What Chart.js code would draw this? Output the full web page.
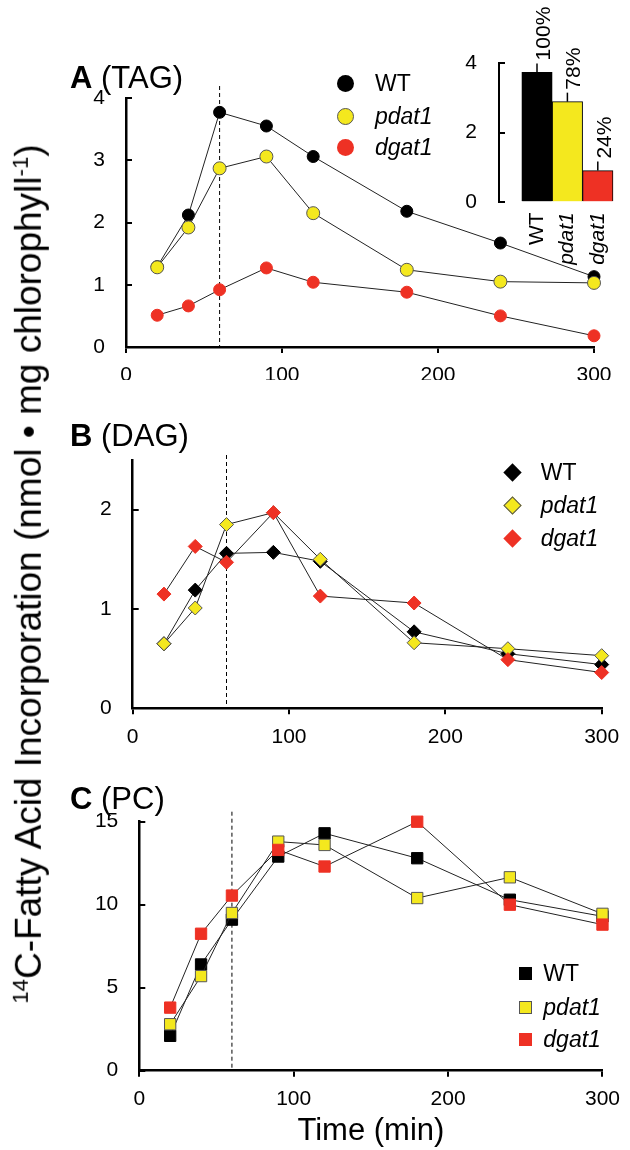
<!DOCTYPE html>
<html>
<head>
<meta charset="utf-8">
<title>14C-fatty acid incorporation</title>
<script src="https://cdn.jsdelivr.net/npm/chart.js"></script>
<style>
  body { margin: 0; width: 630px; height: 1150px; position: relative; background: #fff; overflow: hidden;
         font-family: "Liberation Sans", Arial, sans-serif; color: #000; }
  canvas { position: absolute; }
  .ptitle { position: absolute; left: 70px; font-size: 31px; line-height: 31px; white-space: nowrap; }
  .leg { position: absolute; font-size: 23px; line-height: 23px; white-space: nowrap; }
  .leg i { font-style: italic; }
  .mk { position: absolute; box-sizing: border-box; }
  #ylab { position: absolute; left: 29px; top: 574px; font-size: 37px; white-space: nowrap;
          transform: translate(-50%, -50%) rotate(-90deg); }
  #ylab sup { font-size: 0.6em; }
</style>
</head>
<body>
<canvas id="tag" width="630" height="380" style="left:0;top:0"></canvas>
<canvas id="inset" width="190" height="275" style="left:440px;top:0"></canvas>
<canvas id="dag" width="630" height="370" style="left:0;top:380px"></canvas>
<canvas id="pc" width="630" height="400" style="left:0;top:750px"></canvas>

<div class="ptitle" style="top:62px"><b>A</b> (TAG)</div>
<div class="ptitle" style="top:420px"><b>B</b> (DAG)</div>
<div class="ptitle" style="top:783px"><b>C</b> (PC)</div>
<div id="ylab"><sup>14</sup>C-Fatty Acid Incorporation (nmol • mg chlorophyll<sup>-1</sup>)</div>

<script>
// time points (min)
const times = [20, 40, 60, 90, 120, 180, 240, 300];
const markTime = 60;
const strains = ['WT', 'pdat1', 'dgat1'];

// A: TAG
const tagWT    = [1.29, 2.12, 3.77, 3.55, 3.06, 2.18, 1.67, 1.13];
const tagPdat1 = [1.28, 1.92, 2.87, 3.06, 2.15, 1.24, 1.05, 1.03];
const tagDgat1 = [0.51, 0.66, 0.92, 1.27, 1.04, 0.88, 0.50, 0.18];

// A inset: TAG at 60 min
const insetValues  = [3.73, 2.89, 0.91];
const insetPercent = ['100%', '78%', '24%'];

// B: DAG
const dagWT    = [0.65, 1.19, 1.56, 1.57, 1.48, 0.77, 0.55, 0.44];
const dagPdat1 = [0.65, 1.01, 1.85, 1.97, 1.50, 0.66, 0.60, 0.53];
const dagDgat1 = [1.15, 1.63, 1.47, 1.97, 1.13, 1.06, 0.49, 0.36];

// C: PC
const pcWT    = [2.1, 6.4, 9.1, 12.9, 14.3, 12.8, 10.3, 9.3];
const pcPdat1 = [2.8, 5.7, 9.5, 13.8, 13.6, 10.4, 11.65, 9.45];
const pcDgat1 = [3.8, 8.25, 10.55, 13.3, 12.3, 15.0, 10.0, 8.8];

const xTicks = [0, 100, 200, 300];

const FONT = "'Liberation Sans', Arial, sans-serif";
Chart.defaults.font.family = FONT;
Chart.defaults.color = '#000';

const BLACK = '#000000', YELLOW = '#f4e81e', RED = '#ee3124';
const fills = [BLACK, YELLOW, RED];

// dashed line at the 60 min mark
const markLine = {
  id: 'markLine',
  beforeDatasetsDraw(chart, args, opts) {
    const { ctx, chartArea, scales } = chart;
    const px = scales.x.getPixelForValue(opts.value);
    ctx.save();
    ctx.strokeStyle = '#000';
    ctx.lineWidth = 1;
    ctx.setLineDash([4, 3]);
    ctx.beginPath();
    ctx.moveTo(px, chartArea.top - opts.above);
    ctx.lineTo(px, chartArea.bottom);
    ctx.stroke();
    ctx.restore();
  }
};

function series(data, i, style, radius) {
  return {
    label: strains[i],
    data: data.map((v, k) => ({ x: times[k], y: v })),
    borderColor: '#222',
    borderWidth: 1,
    pointStyle: style,
    pointRadius: radius,
    pointHoverRadius: radius,
    pointBackgroundColor: fills[i],
    pointBorderColor: i === 1 ? '#555' : fills[i],
    pointBorderWidth: 1,
    clip: false,
    order: 3 - i
  };
}

function linePanel(id, sets, yMax, yTicks, box, extraX) {
  const x = {
    type: 'linear', min: 0, max: 300,
    afterBuildTicks: s => { s.ticks = xTicks.map(v => ({ value: v })); },
    afterFit: s => { s.height = box.xh; },
    border: { color: '#000', width: 2.5 },
    grid: { drawOnChartArea: false, drawTicks: true, tickLength: 6, color: '#000', lineWidth: 2 },
    ticks: { font: { size: 21 }, color: '#000', padding: 10, maxRotation: 0 }
  };
  Object.assign(x, extraX || {});
  new Chart(document.getElementById(id), {
    type: 'line',
    data: { datasets: sets },
    options: {
      responsive: false,
      animation: false,
      layout: { padding: box.pad },
      plugins: { legend: { display: false }, tooltip: { enabled: false },
                 markLine: { value: markTime, above: box.above } },
      scales: {
        x: x,
        y: {
          min: 0, max: yMax,
          afterBuildTicks: s => { s.ticks = yTicks.map(v => ({ value: v })); },
          afterFit: s => { s.width = 60; s.paddingTop = 12; s.paddingBottom = 12; },
          border: { color: '#000', width: 2.5 },
          grid: { drawOnChartArea: false, drawTicks: true, tickLength: -6, color: '#000', lineWidth: 2 },
          ticks: { font: { size: 21 }, color: '#000', padding: 27 }
        }
      }
    },
    plugins: [markLine]
  });
}

linePanel('tag', [
  series(tagWT, 0, 'circle', 6), series(tagPdat1, 1, 'circle', 6.5), series(tagDgat1, 2, 'circle', 6)
], 4, [0, 1, 2, 3, 4],
{ xh: 33, above: 12, pad: { left: 66, right: 36, top: 98, bottom: 0 } });

linePanel('dag', [
  series(dagWT, 0, 'rectRot', 7), series(dagPdat1, 1, 'rectRot', 7), series(dagDgat1, 2, 'rectRot', 7)
], 2.5, [0, 1, 2],
{ xh: 41.7, above: 5, pad: { left: 72.7, right: 28.3, top: 80, bottom: 0 } });

linePanel('pc', [
  series(pcWT, 0, 'rect', 8), series(pcPdat1, 1, 'rect', 8), series(pcDgat1, 2, 'rect', 8)
], 15, [0, 5, 10, 15],
{ xh: 79.3, above: 10, pad: { left: 79.3, right: 22.3, top: 71.7, bottom: 0 } },
{ title: { display: true, text: 'Time (min)', font: { size: 31 }, color: '#000', padding: { top: 0, bottom: 0 } } });

// inset bar chart with percent notes
const barNotes = {
  id: 'barNotes',
  afterDatasetsDraw(chart, args, opts) {
    const ctx = chart.ctx;
    chart.getDatasetMeta(0).data.forEach((bar, i) => {
      ctx.save();
      ctx.strokeStyle = '#000';
      ctx.lineWidth = 1.5;
      ctx.beginPath();
      ctx.moveTo(bar.x, bar.y);
      ctx.lineTo(bar.x, bar.y - 9);
      ctx.stroke();
      ctx.translate(bar.x + 7, bar.y - 12);
      ctx.rotate(-Math.PI / 2);
      ctx.font = '21px ' + FONT;
      ctx.fillStyle = '#000';
      ctx.textAlign = 'left';
      ctx.textBaseline = 'middle';
      ctx.fillText(opts.labels[i], 0, 0);
      ctx.restore();
    });
  }
};

new Chart(document.getElementById('inset'), {
  type: 'bar',
  data: {
    datasets: [{
      data: insetValues.map((v, i) => ({ x: i, y: v })),
      backgroundColor: fills,
      borderColor: '#000',
      borderWidth: 1,
      barPercentage: 1,
      categoryPercentage: 1,
      clip: false
    }]
  },
  options: {
    responsive: false,
    animation: false,
    layout: { padding: { left: 0, right: 17, top: 63, bottom: 0 } },
    plugins: { legend: { display: false }, tooltip: { enabled: false },
               barNotes: { labels: insetPercent } },
    scales: {
      x: {
        type: 'linear', min: -1.25, max: 2.5, offset: false,
        afterBuildTicks: s => { s.ticks = strains.map((n, i) => ({ value: i })); },
        afterFit: s => { s.height = 72.7; s.paddingLeft = 0; s.paddingRight = 0; },
        border: { display: false },
        grid: { display: false },
        ticks: {
          callback: v => strains[v],
          minRotation: 90, maxRotation: 90, padding: 2, color: '#000',
          font: c => ({ size: 21, style: c.index === 0 ? 'normal' : 'italic' })
        }
      },
      y: {
        min: 0, max: 4,
        afterBuildTicks: s => { s.ticks = [0, 2, 4].map(v => ({ value: v })); },
        afterFit: s => { s.width = 59; s.paddingTop = 12; s.paddingBottom = 12; },
        border: { color: '#000', width: 2 },
        grid: { drawOnChartArea: false, drawTicks: true, tickLength: -6, color: '#000', lineWidth: 2 },
        ticks: { font: { size: 21 }, color: '#000', padding: 28 }
      }
    }
  },
  plugins: [barNotes]
});

// legends
const legendRows = [
  { shape: 'circle',  x: 345.7, text: 375, ys: [83.3, 116, 147.3], size: 17 },
  { shape: 'diamond', x: 512.7, text: 540.7, ys: [472.7, 505, 538.3], size: 13 },
  { shape: 'square',  x: 525, text: 543.3, ys: [973.3, 1007.3, 1039.3], size: 13 }
];
legendRows.forEach(g => {
  g.ys.forEach((cy, i) => {
    const m = document.createElement('div');
    m.className = 'mk';
    m.style.left = (g.x - g.size / 2) + 'px';
    m.style.top = (cy - g.size / 2) + 'px';
    m.style.width = m.style.height = g.size + 'px';
    m.style.background = fills[i];
    if (i === 1) m.style.border = '1px solid #555';
    if (g.shape === 'circle') m.style.borderRadius = '50%';
    if (g.shape === 'diamond') m.style.transform = 'rotate(45deg)';
    document.body.appendChild(m);
    const t = document.createElement('div');
    t.className = 'leg';
    t.style.left = g.text + 'px';
    t.style.top = (cy - 11.5) + 'px';
    t.innerHTML = i === 0 ? strains[i] : '<i>' + strains[i] + '</i>';
    document.body.appendChild(t);
  });
});
</script>
</body>
</html>
